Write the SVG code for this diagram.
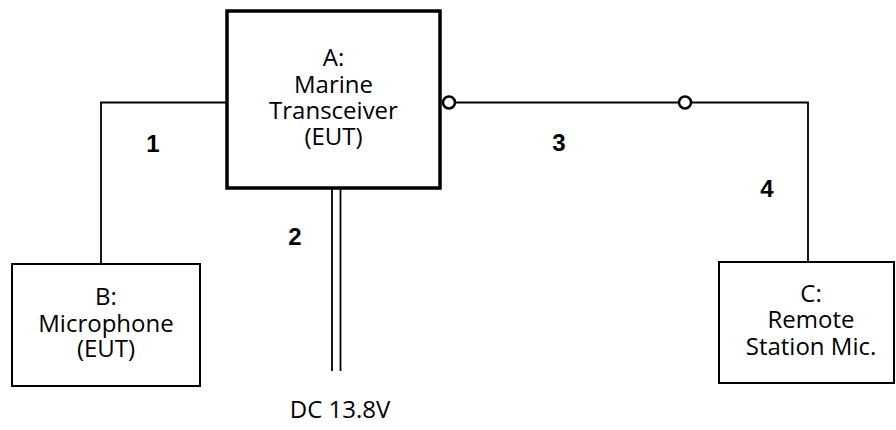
<svg xmlns="http://www.w3.org/2000/svg" width="896" height="430" viewBox="0 0 896 430">
<style>
.box{fill:#fff;stroke:#000;stroke-width:2}
.main{fill:#fff;stroke:#000;stroke-width:3.5}
.ln{fill:none;stroke:#000;stroke-width:1.8}
.term{fill:#fff;stroke:#000;stroke-width:2.5}
.t{font-family:"Open Sans","Noto Sans",sans-serif;font-size:24px;text-anchor:middle;fill:#000}
.n{font-family:"Liberation Sans",Arial,sans-serif;font-size:24px;font-weight:bold;text-anchor:middle;fill:#000}
</style>
<rect width="896" height="430" fill="#fff"/>
<g id="connectors">
<polyline class="ln" points="227,102.5 101,102.5 101,264"/>
<line class="ln" x1="332" y1="188" x2="332" y2="371"/>
<line class="ln" x1="340.5" y1="188" x2="340.5" y2="371"/>
<polyline class="ln" points="449,102.5 808,102.5 808,262"/>
<circle class="term" cx="449" cy="102.5" r="6"/>
<circle class="term" cx="685" cy="102.5" r="6"/>
<text class="n" x="153" y="152">1</text>
<text class="n" x="295" y="245">2</text>
<text class="n" x="559" y="151">3</text>
<text class="n" x="767" y="197">4</text>
<text class="t" x="340" y="418">DC 13.8V</text>
</g>
<g id="nodeA">
<rect class="main" x="227" y="11" width="213" height="177"/>
<text class="t" x="333.5" y="66">A:</text>
<text class="t" x="333.5" y="93">Marine</text>
<text class="t" x="333.5" y="119">Transceiver</text>
<text class="t" x="333.5" y="145">(EUT)</text>
</g>
<g id="nodeB">
<rect class="box" x="12" y="264" width="188" height="122"/>
<text class="t" x="106" y="305">B:</text>
<text class="t" x="106" y="332">Microphone</text>
<text class="t" x="106" y="357">(EUT)</text>
</g>
<g id="nodeC">
<rect class="box" x="719" y="262" width="175" height="121"/>
<text class="t" x="811" y="302">C:</text>
<text class="t" x="811" y="328">Remote</text>
<text class="t" x="811" y="355">Station Mic.</text>
</g>
</svg>
